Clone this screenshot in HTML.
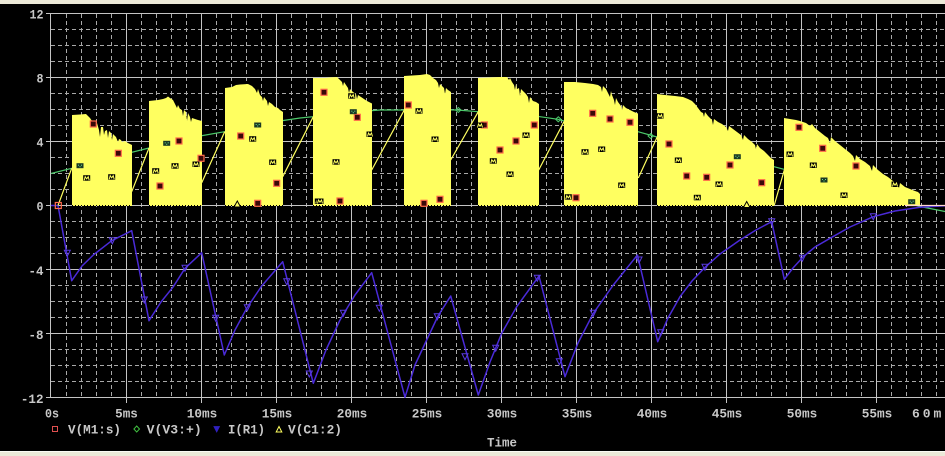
<!DOCTYPE html>
<html><head><meta charset="utf-8"><style>
html,body{margin:0;padding:0;background:#000;}
svg{display:block;}
text{font-family:"Liberation Mono","DejaVu Sans Mono",monospace;font-weight:bold;fill:#c8c8c8;font-size:13px;}
</style></head><body>
<svg width="945" height="456" viewBox="0 0 945 456" xmlns="http://www.w3.org/2000/svg">
<defs>
<g id="mk"><rect x="-3.5" y="-2.5" width="7" height="5.5" fill="#000"/><path d="M-2.5,2.5 L-1.5,-1 L0,1.2 L1.5,-1 L2.5,2.5" stroke="#ffff60" stroke-width="1" fill="none"/></g>
<g id="rs"><rect x="-3" y="-3" width="6" height="6" fill="#3a0808" stroke="#ff6a4a" stroke-width="1.2"/></g>
<g id="gc"><rect x="-3.5" y="-2.5" width="7" height="5" fill="#1c3a24"/><rect x="-2" y="-1" width="1" height="1" fill="#70e090"/><rect x="1" y="-1" width="1" height="1" fill="#70e090"/><rect x="-0.5" y="0.5" width="1" height="1" fill="#70e090"/></g>
<g id="bt"><path d="M-3,-3 H3 L0,3 Z" stroke="#5a3ae0" stroke-width="1" fill="none"/></g>
</defs>
<rect x="0" y="0" width="945" height="456" fill="#000"/>
<rect x="0" y="0" width="945" height="4" fill="#ece9d8"/>
<rect x="0" y="451" width="945" height="5" fill="#ece9d8"/>
<line x1="0" y1="451.5" x2="945" y2="451.5" stroke="#fbfaf4" stroke-width="1"/>

<!-- minor grid -->
<path stroke="#a8a8a8" stroke-width="1" stroke-dasharray="4 3" fill="none" d="
M66.5 14V397M81.5 14V397M96.5 14V397M111.5 14V397
M141.5 14V397M156.5 14V397M171.5 14V397M186.5 14V397
M216.5 14V397M231.5 14V397M246.5 14V397M261.5 14V397
M291.5 14V397M306.5 14V397M321.5 14V397M336.5 14V397
M366.5 14V397M381.5 14V397M396.5 14V397M411.5 14V397
M441.5 14V397M456.5 14V397M471.5 14V397M486.5 14V397
M516.5 14V397M531.5 14V397M546.5 14V397M561.5 14V397
M591.5 14V397M606.5 14V397M621.5 14V397M636.5 14V397
M666.5 14V397M681.5 14V397M696.5 14V397M711.5 14V397
M741.5 14V397M756.5 14V397M771.5 14V397M786.5 14V397
M816.5 14V397M831.5 14V397M846.5 14V397M861.5 14V397
M891.5 14V397M906.5 14V397M921.5 14V397M936.5 14V397
M51 29.5H945M51 45.5H945M51 61.5H945
M51 93.5H945M51 109.5H945M51 125.5H945
M51 157.5H945M51 173.5H945M51 189.5H945
M51 221.5H945M51 237.5H945M51 253.5H945
M51 285.5H945M51 301.5H945M51 317.5H945
M51 349.5H945M51 365.5H945M51 381.5H945"/>
<!-- major grid -->
<path stroke="#c4c4c4" stroke-width="1" fill="none" d="
M126.5 13V403M201.5 13V403M276.5 13V403M351.5 13V403M426.5 13V403M501.5 13V403
M576.5 13V403M651.5 13V403M726.5 13V403M801.5 13V403M876.5 13V403
M50.5 13V398
M46 13.5H945M46 77.5H945M46 141.5H945M46 205.5H945M46 269.5H945M46 333.5H945M46 397.5H945"/>

<!-- green V(V3:+) -->
<polyline fill="none" stroke="#4cc86a" stroke-width="1.2" points="51,173.5 71.7,168.3 100,160 125,154 149,148 175,141 200,136 224.7,131.7 250,127 280,121 300,118 313,116.7 340,113 380,110 404,110 430,109.5 457,110 478,111.7 510,113.5 540,116.7 558,119.3 564,121 600,126 638,131.7 657,137 680,143 700,148 730,156 760,163 774,166.7 784,169.3 810,177 840,186 870,194 900,201 920,206.5 945,211.5"/>

<!-- blue I(R1) -->
<polyline fill="none" stroke="#4a2ad8" stroke-width="1.5" stroke-linejoin="round" points="51,205.5 58,205.5 71.7,280.7 82,266 93.3,255 111.7,240.7 131.7,230.7 149,320.7 161,302 173.3,286.7 185,268.3 201.7,252.7 224.3,355 235,330 246.7,308.3 261.7,286 282.7,261.7 313.3,383.3 326,350 340,320 355,295 371.7,272.7 405,397.3 415,365 426.7,340 438,316 450.7,296 478.3,395 490,362 501.7,333.3 516.7,306.7 539,276 565,376.7 578,343 593.3,313.3 613.3,285 637.5,255 657.7,341.7 668,318 680,296.7 692,281 705,267.3 720,254 740,240 756,230 771.7,221.7 784.3,279.3 793,268 803.3,256.7 815,247 830,238.3 850,227 873.3,216.7 895,211 920,207.3 945,205.8"/>

<!-- yellow ramps -->
<path stroke="#ffff60" stroke-width="1.2" fill="none" d="M58,205.5 L71.7,168.3 M131.7,191.7 L149,148 M201.7,182.7 L224.7,131.7 M282.7,176.7 L313.3,116.7 M371.7,170 L404.3,110 M450.7,160 L478.3,111.7 M538.7,170 L564,121.7 M638.3,178 L657.3,136.7 M774.3,205 L784.3,170"/>

<!-- yellow blocks -->
<g fill="#ffff60">
<polygon points="72,206 72,115 80,114.5 86,114 88,116 90,118 92,121 95,122 96,125 97,123 99,130 100,137 101,127 103,127 104,135 105,131 107,130 108,138 109,131 111,133 112,140 113,134 116,137 118,142 119,139 121,140 122,142 125,141 128,143 130,144 132,145 132,206"/>
<polygon points="149,206 149,101 158,100 163,99 166,98 168,96.5 170,98 173,100 175,104 177,108 178,105 180,109 182,110 183,116 184,110 186,112 187,121 188,113 190,117 191,122 192,118 195,119 198,120 202,121 202,206"/>
<polygon points="225,206 225,88 232,87 236,85 240,84.5 248,84 252,86 255,89 257,93 258,89 260,95 262,97 263,101 264,97 267,101 268,106 269,102 272,104 275,107 278,108 280,110 283,112 283,206"/>
<polygon points="313,206 313,78 325,78 330,77.5 337,77 340,80 342,82 343,86 344,82 346,85 348,88 349,93 350,89 353,92 356,94 357,99 358,95 361,97 364,99 367,101 369,102 372,103.5 372,206"/>
<polygon points="404,206 404,76 412,75.5 420,75 427,74 430,75 433,78 436,80 438,83 439,88 440,84 442,86 444,88 445,94 446,88 448,90 451,92 451,206"/>
<polygon points="478,206 478,78 490,77.5 500,77 507,77 509,80 510,78 512,82 514,85 515,90 516,84 517,89 519,88 520,96 521,89 524,92 526,94 528,97 529,103 530,97 533,101 536,102 539,104 539,206"/>
<polygon points="564,206 564,82 575,82 585,83 593,84 598,85 601,87 602,92 603,86 606,89 608,93 610,97 611,91 612,95 614,100 615,105 616,98 618,102 621,106 622,110 623,105 626,108 630,110 634,112 638,113.5 638,206"/>
<polygon points="657,206 657,94 665,95 675,96 683,97 688,99 692,101 695,104 698,108 701,112 703,113 704,117 705,112 708,116 710,118 712,120 713,125 714,119 718,122 722,124 726,127 728,131 729,126 733,129 737,132 741,135 743,140 744,135 748,139 752,142 755,145 756,149 757,144 760,148 764,151 768,155 771,158 774,160 774,206"/>
<polygon points="784,206 784,118 790,119 796,120 800,121 806,123 810,126 812,124 815,128 820,132 825,136 828,138 830,143 831,137 835,141 840,145 845,149 850,153 853,156 855,161 856,155 860,159 865,162 870,166 872,171 873,165 878,170 883,174 888,177 893,181 897,183 899,188 900,183 905,187 910,189 915,191 918,192 920,194 920,206"/>
</g>
<path stroke="#000" stroke-width="1" stroke-dasharray="1 2" fill="none" d="M72 205.5H132M149 205.5H202M225 205.5H283M313 205.5H372M404 205.5H451M478 205.5H539M564 205.5H638M657 205.5H774M784 205.5H920"/>
<line x1="905" y1="205.5" x2="945" y2="205.5" stroke="#ffd8d0" stroke-width="1.2"/>

<!-- red square markers -->
<rect x="55.3" y="202.5" width="6" height="6" fill="none" stroke="#ff6a4a" stroke-width="1.2"/>
<use href="#rs" x="93.3" y="124"/><use href="#rs" x="118.3" y="153.3"/><use href="#rs" x="160" y="186"/>
<use href="#rs" x="179" y="141"/><use href="#rs" x="201" y="158.3"/><use href="#rs" x="240.7" y="136"/>
<use href="#rs" x="257.7" y="203.3"/><use href="#rs" x="276.7" y="183.3"/><use href="#rs" x="324" y="92.3"/>
<use href="#rs" x="357.3" y="117.3"/><use href="#rs" x="340" y="201"/><use href="#rs" x="408.3" y="105"/>
<use href="#rs" x="424" y="203.3"/><use href="#rs" x="440" y="199.3"/><use href="#rs" x="484.3" y="125"/>
<use href="#rs" x="500" y="150"/><use href="#rs" x="516" y="141"/><use href="#rs" x="534.3" y="125"/>
<use href="#rs" x="592.7" y="113.3"/><use href="#rs" x="610" y="119"/><use href="#rs" x="576" y="197.7"/>
<use href="#rs" x="630" y="122.3"/><use href="#rs" x="669" y="144"/><use href="#rs" x="686.7" y="176"/>
<use href="#rs" x="706.7" y="177.3"/><use href="#rs" x="730" y="165"/><use href="#rs" x="761.7" y="182.7"/>
<use href="#rs" x="799" y="127.3"/><use href="#rs" x="822.7" y="148.3"/><use href="#rs" x="856" y="166"/>

<!-- black M markers -->
<use href="#mk" x="86.7" y="177.7"/><use href="#mk" x="111.7" y="176.7"/><use href="#mk" x="155.7" y="170.7"/>
<use href="#mk" x="175" y="165.7"/><use href="#mk" x="196" y="164"/><use href="#mk" x="252.7" y="138.7"/>
<use href="#mk" x="272.7" y="162"/><use href="#mk" x="318.3" y="201"/><use href="#mk" x="351.7" y="95.7"/>
<use href="#mk" x="336" y="161.7"/><use href="#mk" x="320" y="201"/><use href="#mk" x="370" y="134"/>
<use href="#mk" x="419" y="110.7"/><use href="#mk" x="435" y="139"/><use href="#mk" x="480" y="125"/>
<use href="#mk" x="493.3" y="160.7"/><use href="#mk" x="510" y="174"/><use href="#mk" x="526" y="135"/>
<use href="#mk" x="585" y="151.7"/><use href="#mk" x="601.7" y="149"/><use href="#mk" x="568.3" y="196.7"/>
<use href="#mk" x="621.7" y="185"/><use href="#mk" x="660" y="115.7"/><use href="#mk" x="678.3" y="160"/>
<use href="#mk" x="719" y="184"/><use href="#mk" x="697.3" y="197.3"/><use href="#mk" x="790" y="154"/>
<use href="#mk" x="813.3" y="165"/><use href="#mk" x="844" y="195"/><use href="#mk" x="895" y="184"/>

<!-- green checker markers -->
<use href="#gc" x="80" y="165.7"/><use href="#gc" x="166.7" y="143.3"/><use href="#gc" x="257.7" y="125"/>
<use href="#gc" x="353.3" y="111.7"/><use href="#gc" x="737.3" y="156.7"/><use href="#gc" x="824" y="180"/>
<use href="#gc" x="911.7" y="201.7"/>
<g fill="none" stroke="#4cc86a" stroke-width="1">
<path d="M458.3,107.5 L461,110 L458.3,112.5 L455.6,110 Z"/>
<path d="M558.3,116.8 L561,119.3 L558.3,121.8 L555.6,119.3 Z"/>
<path d="M650.7,133.5 L653.4,136 L650.7,138.5 L648,136 Z"/>
</g>
<!-- yellow triangles at baseline -->
<path d="M234,207 L237.3,201 L240.6,207 Z" fill="#ffff60" stroke="#000" stroke-width="1"/>
<path d="M743.4,207.5 L746.7,201.5 L750,207.5 Z" fill="#ffff60" stroke="#000" stroke-width="1"/>

<!-- blue triangle markers -->
<use href="#bt" x="67.3" y="253.3"/><use href="#bt" x="112.3" y="240.7"/><use href="#bt" x="144.3" y="300"/>
<use href="#bt" x="185" y="268.3"/><use href="#bt" x="215.7" y="318.3"/><use href="#bt" x="247.3" y="307.7"/>
<use href="#bt" x="286.7" y="281.7"/><use href="#bt" x="309.3" y="374"/><use href="#bt" x="343.3" y="313.3"/>
<use href="#bt" x="379.3" y="308.3"/><use href="#bt" x="437.3" y="316.7"/><use href="#bt" x="465" y="356.7"/>
<use href="#bt" x="495.7" y="348.3"/><use href="#bt" x="537.3" y="278.3"/><use href="#bt" x="559.3" y="361.7"/>
<use href="#bt" x="593.3" y="313.3"/><use href="#bt" x="639" y="260"/><use href="#bt" x="660.7" y="332.7"/>
<use href="#bt" x="705" y="267.3"/><use href="#bt" x="771.7" y="221.7"/><use href="#bt" x="802.3" y="258.3"/>
<use href="#bt" x="873.3" y="216.7"/>

<!-- y labels -->
<g text-anchor="end">
<text x="43.5" y="18.3" textLength="14" lengthAdjust="spacingAndGlyphs">12</text>
<text x="43.5" y="82.3" textLength="7" lengthAdjust="spacingAndGlyphs">8</text>
<text x="43.5" y="146.5" textLength="7" lengthAdjust="spacingAndGlyphs">4</text>
<text x="43.5" y="210.5" textLength="7" lengthAdjust="spacingAndGlyphs">0</text>
<text x="43.5" y="275" textLength="15" lengthAdjust="spacingAndGlyphs">-4</text>
<text x="43.5" y="339" textLength="15" lengthAdjust="spacingAndGlyphs">-8</text>
<text x="43.5" y="403" textLength="22.6" lengthAdjust="spacingAndGlyphs">-12</text>
</g>
<!-- x labels -->
<g text-anchor="middle">
<text x="52" y="417.5" textLength="14" lengthAdjust="spacingAndGlyphs">0s</text>
<text x="126.5" y="417.5" textLength="22.7" lengthAdjust="spacingAndGlyphs">5ms</text>
<text x="202" y="417.5" textLength="30.6" lengthAdjust="spacingAndGlyphs">10ms</text>
<text x="277" y="417.5" textLength="30.6" lengthAdjust="spacingAndGlyphs">15ms</text>
<text x="352" y="417.5" textLength="30.6" lengthAdjust="spacingAndGlyphs">20ms</text>
<text x="427" y="417.5" textLength="30.6" lengthAdjust="spacingAndGlyphs">25ms</text>
<text x="502" y="417.5" textLength="30.6" lengthAdjust="spacingAndGlyphs">30ms</text>
<text x="577" y="417.5" textLength="30.6" lengthAdjust="spacingAndGlyphs">35ms</text>
<text x="652" y="417.5" textLength="30.6" lengthAdjust="spacingAndGlyphs">40ms</text>
<text x="727" y="417.5" textLength="30.6" lengthAdjust="spacingAndGlyphs">45ms</text>
<text x="802" y="417.5" textLength="30.6" lengthAdjust="spacingAndGlyphs">50ms</text>
<text x="877" y="417.5" textLength="30.6" lengthAdjust="spacingAndGlyphs">55ms</text>
</g>
<text x="912" y="417.5" textLength="40" lengthAdjust="spacing">60ms</text>

<!-- legend -->
<rect x="52.5" y="426.5" width="5" height="5" fill="none" stroke="#e05050" stroke-width="1"/>
<text x="68" y="433.5" textLength="53" lengthAdjust="spacingAndGlyphs">V(M1:s)</text>
<path d="M136.7,426 L139.5,429 L136.7,432 L133.9,429 Z" fill="none" stroke="#40c040" stroke-width="1"/>
<text x="146.7" y="433.5" textLength="55" lengthAdjust="spacingAndGlyphs">V(V3:+)</text>
<path d="M213.9,426.5 H219.5 L216.7,432 Z" fill="#3020c0" stroke="#3020c0" stroke-width="0.8"/>
<text x="228" y="433.5" textLength="37" lengthAdjust="spacingAndGlyphs">I(R1)</text>
<path d="M276.2,432 H281.8 L279,426.5 Z" fill="none" stroke="#ffff60" stroke-width="1"/>
<text x="288" y="433.5" textLength="54" lengthAdjust="spacingAndGlyphs">V(C1:2)</text>

<text x="487" y="446.5" textLength="30" lengthAdjust="spacingAndGlyphs">Time</text>
</svg>
</body></html>
